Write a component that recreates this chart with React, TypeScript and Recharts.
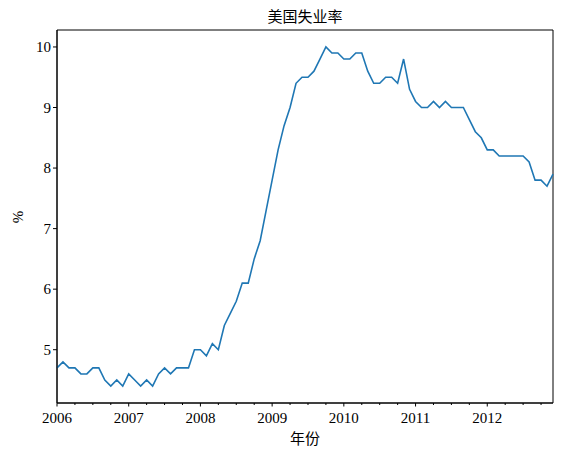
import { LineChart, Line, XAxis, YAxis, ReferenceArea, Customized } from "recharts";

const years = [2006, 2007, 2008, 2009, 2010, 2011, 2012];

const rate2006 = [4.7, 4.8, 4.7, 4.7, 4.6, 4.6, 4.7, 4.7, 4.5, 4.4, 4.5, 4.4];
const rate2007 = [4.6, 4.5, 4.4, 4.5, 4.4, 4.6, 4.7, 4.6, 4.7, 4.7, 4.7, 5.0];
const rate2008 = [5.0, 4.9, 5.1, 5.0, 5.4, 5.6, 5.8, 6.1, 6.1, 6.5, 6.8, 7.3];
const rate2009 = [7.8, 8.3, 8.7, 9.0, 9.4, 9.5, 9.5, 9.6, 9.8, 10.0, 9.9, 9.9];
const rate2010 = [9.8, 9.8, 9.9, 9.9, 9.6, 9.4, 9.4, 9.5, 9.5, 9.4, 9.8, 9.3];
const rate2011 = [9.1, 9.0, 9.0, 9.1, 9.0, 9.1, 9.0, 9.0, 9.0, 8.8, 8.6, 8.5];
const rate2012 = [8.3, 8.3, 8.2, 8.2, 8.2, 8.2, 8.2, 8.1, 7.8, 7.8, 7.7, 7.9];

const yTicks = [5, 6, 7, 8, 9, 10];

const data = [rate2006, rate2007, rate2008, rate2009, rate2010, rate2011, rate2012]
  .flat()
  .map((v, i) => ({ m: i, rate: v }));

// quarterly ticks, years get a label
const quarterTicks = Array.from({ length: 28 }, (_, i) => i * 3);

const FONT = "'Liberation Serif', 'Noto Sans CJK SC', serif";
const CJK = "'Noto Sans CJK SC', sans-serif";

function MonthTick(props: any) {
  const { x, y, payload } = props;
  const isYear = payload.value % 12 === 0;
  return (
    <g>
      <line x1={x} x2={x} y1={y} y2={y + (isYear ? 3.5 : 2)} stroke="#000" strokeWidth={1} />
      {isYear && (
        <text x={x} y={y + 20} textAnchor="middle" fontSize={15} fontFamily={FONT} fill="#000">
          {years[payload.value / 12]}
        </text>
      )}
    </g>
  );
}

export default function App() {
  return (
    <div style={{ position: "absolute", left: 0, top: 0 }}>
      <LineChart
        width={563}
        height={460}
        data={data}
        margin={{ top: 30, right: 10, bottom: 0, left: 0 }}
      >
        <XAxis
          dataKey="m"
          type="number"
          domain={[0, 83]}
          ticks={quarterTicks}
          tick={<MonthTick />}
          tickLine={false}
          tickSize={0}
          tickMargin={0}
          axisLine={{ stroke: "#000" }}
          height={57}
          interval={0}
        />
        <YAxis
          domain={[4.12, 10.28]}
          ticks={yTicks}
          type="number"
          width={57}
          tickSize={4}
          tickLine={{ stroke: "#000" }}
          axisLine={{ stroke: "#000" }}
          tick={{ fill: "#000", fontSize: 15, fontFamily: FONT }}
          interval={0}
        />
        <ReferenceArea
          x1={0}
          x2={83}
          y1={4.12}
          y2={10.28}
          fill="none"
          stroke="#000"
          strokeWidth={1}
          ifOverflow="visible"
        />
        <Line
          dataKey="rate"
          type="linear"
          stroke="#1f77b4"
          strokeWidth={1.6}
          dot={false}
          isAnimationActive={false}
        />
        <Customized
          component={() => (
            <g>
              <text x={305} y={22} textAnchor="middle" fontSize={15} fontFamily={CJK} fill="#000">
                美国失业率
              </text>
              <text x={305} y={444} textAnchor="middle" fontSize={15} fontFamily={CJK} fill="#000">
                年份
              </text>
              <text
                x={23}
                y={217}
                textAnchor="middle"
                fontSize={15}
                fontFamily={FONT}
                fill="#000"
                transform="rotate(-90 23 217)"
              >
                %
              </text>
            </g>
          )}
        />
      </LineChart>
    </div>
  );
}
